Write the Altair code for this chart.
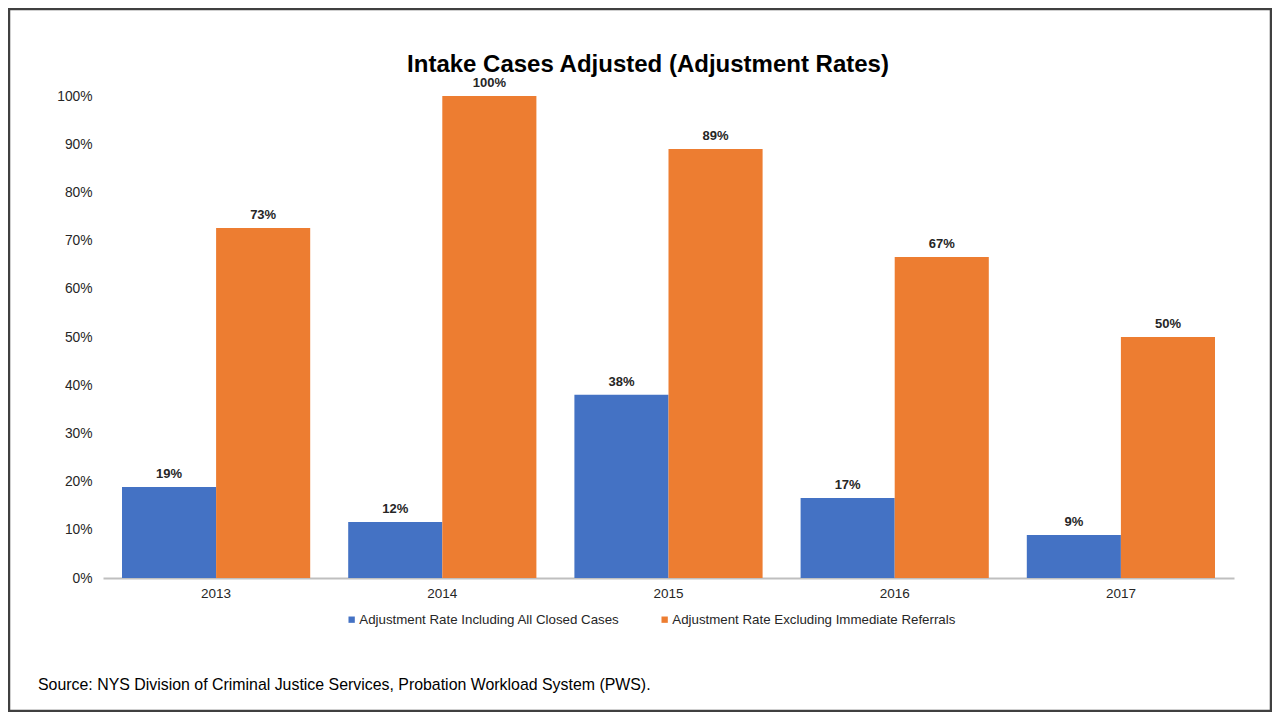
import altair as alt
import pandas as pd

years = ["2013", "2014", "2015", "2016", "2017"]
series_names = [
    "Adjustment Rate Including All Closed Cases",
    "Adjustment Rate Excluding Immediate Referrals",
]
incl = [0.189, 0.116, 0.38, 0.166, 0.089]
excl = [0.726, 1.0, 0.89, 0.666, 0.50]
colors = ["#4472C4", "#ED7D31"]
y_ticks = [i / 10 for i in range(11)]
title_text = "Intake Cases Adjusted (Adjustment Rates)"
source_text = "Source: NYS Division of Criminal Justice Services, Probation Workload System (PWS)."

rows = []
for i, yr in enumerate(years):
    rows.append({"year": yr, "series": series_names[0], "value": incl[i]})
    rows.append({"year": yr, "series": series_names[1], "value": excl[i]})
df = pd.DataFrame(rows)

FONT = "Liberation Sans"
TXT = "#262626"

x = alt.X(
    "year:N", sort=years, title=None,
    scale=alt.Scale(paddingInner=0.168, paddingOuter=0.084),
    axis=alt.Axis(labelAngle=0, ticks=False, domainColor="#BFBFBF", domainWidth=2,
                  labelFontSize=13.5, labelColor=TXT, labelPadding=8, labelFont=FONT),
)
xo = alt.XOffset("series:N", sort=series_names)
y = alt.Y(
    "value:Q", title=None, scale=alt.Scale(domain=[0, 1]),
    axis=alt.Axis(values=y_ticks, format=".0%", grid=False, domain=False, ticks=False,
                  labelPadding=11, labelFontSize=13.8, labelColor=TXT, labelFont=FONT),
)
color = alt.Color(
    "series:N", sort=series_names,
    scale=alt.Scale(domain=series_names, range=colors),
    legend=alt.Legend(title=None, orient="none", direction="horizontal",
                      legendX=242, legendY=517, symbolType="square", symbolSize=40,
                      symbolStrokeWidth=0, labelFontSize=13.3, labelFont=FONT,
                      labelColor=TXT, labelOffset=1, columnPadding=38, padding=0,
                      labelLimit=400),
)

bars = alt.Chart(df).mark_bar().encode(x=x, xOffset=xo, y=y, color=color)
labels = alt.Chart(df).mark_text(
    fontWeight="bold", fontSize=13, font=FONT, dy=-9, baseline="alphabetic", color=TXT
).encode(x=x, xOffset=xo, y=y, text=alt.Text("value:Q", format=".0%"))

tdf = pd.DataFrame({"t": [title_text]})
sdf = pd.DataFrame({"t": [source_text]})
title = alt.Chart(tdf).mark_text(
    fontSize=24, fontWeight="bold", font=FONT, align="center", baseline="alphabetic", color="black"
).encode(text="t:N", x=alt.value(545), y=alt.value(-24))
source = alt.Chart(sdf).mark_text(
    fontSize=15.9, font=FONT, align="left", baseline="alphabetic", color="black"
).encode(text="t:N", x=alt.value(-65), y=alt.value(594))
frame = alt.Chart(tdf).mark_rect(filled=False, stroke="#404040", strokeWidth=2.5).encode(
    x=alt.value(-94), x2=alt.value(1168), y=alt.value(-87), y2=alt.value(615)
)

chart = alt.layer(bars, labels, title, source, frame).properties(
    width=1131, height=482,
    padding={"left": 95, "top": 88, "right": 38, "bottom": 134},
    autosize=alt.AutoSizeParams(type="none"),
).configure_view(strokeWidth=0)

chart.save("out.html", embed_options={"renderer": "svg", "actions": False})
